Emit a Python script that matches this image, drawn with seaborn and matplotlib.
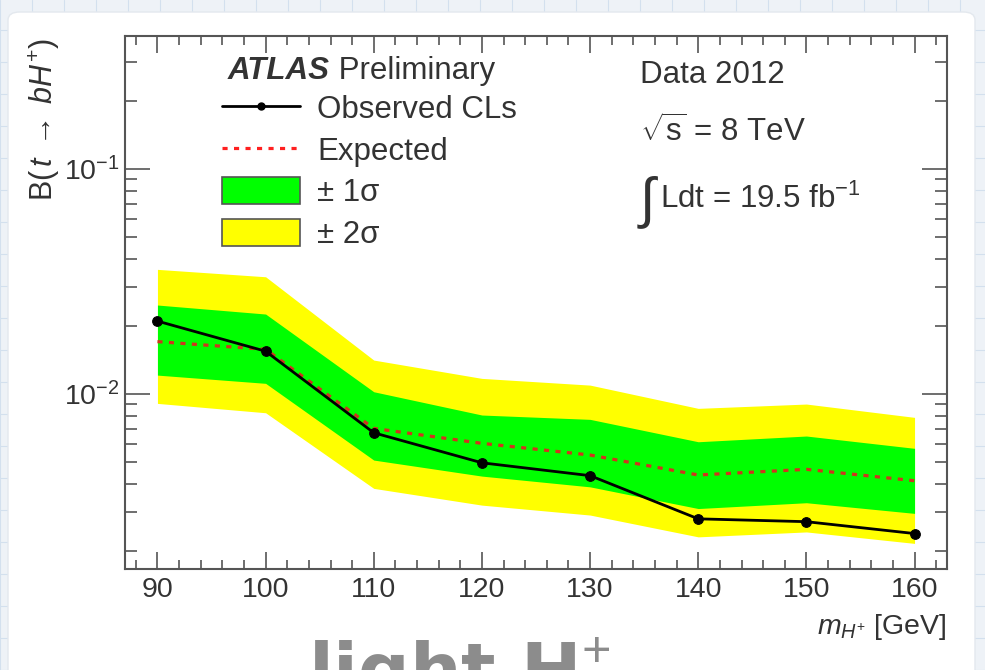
import numpy as np
import pandas as pd
import matplotlib
matplotlib.use("Agg")
import matplotlib.pyplot as plt
import seaborn as sns
from matplotlib.lines import Line2D
from matplotlib.patches import Patch, FancyBboxPatch
from matplotlib.ticker import MultipleLocator, LogLocator, NullFormatter

# ---------------- data ----------------
mass = [90, 100, 110, 120, 130, 140, 150, 160]
observed = [0.0211, 0.0155, 0.00673, 0.00495, 0.00434, 0.00279, 0.00271, 0.00240]
expected = [0.0171, 0.0158, 0.00704, 0.00604, 0.00536, 0.00437, 0.00463, 0.00412]
band1_lo = [0.01214, 0.01116, 0.00509, 0.00432, 0.00387, 0.00310, 0.00329, 0.00295]
band1_hi = [0.02487, 0.02268, 0.01024, 0.00807, 0.00772, 0.00614, 0.00651, 0.00574]
band2_lo = [0.00909, 0.00826, 0.00381, 0.00321, 0.00290, 0.00232, 0.00244, 0.00217]
band2_hi = [0.03582, 0.03321, 0.01416, 0.01174, 0.01096, 0.00864, 0.00903, 0.00788]
x_ticks = [90, 100, 110, 120, 130, 140, 150, 160]

df = pd.DataFrame({"mass": mass, "observed": observed, "expected": expected})

# ---------------- style ----------------
sns.set_theme(style="ticks")
plt.rcParams["font.family"] = ["Liberation Sans", "DejaVu Sans"]
plt.rcParams["mathtext.fontset"] = "custom"
plt.rcParams["mathtext.rm"] = "Liberation Sans"
plt.rcParams["mathtext.it"] = "Liberation Sans:italic"
plt.rcParams["mathtext.bf"] = "Liberation Sans:bold"

TXT = "#333333"
AX = "#555555"
FS = 20.5      # tick labels / axis labels
FT = 22.5      # legend and annotation text

fig = plt.figure(figsize=(9.85, 6.70), dpi=100)
fig.patch.set_facecolor("#eef2f7")

# faint grid-paper background and white card
for gx in np.arange(0, 985, 32):
    fig.add_artist(Line2D([gx / 985, gx / 985], [0, 1], color="#d3e0ee", lw=0.8,
                          transform=fig.transFigure, zorder=-10))
for gy in np.arange(0, 670, 32):
    fig.add_artist(Line2D([0, 1], [gy / 670, gy / 670], color="#d3e0ee", lw=0.8,
                          transform=fig.transFigure, zorder=-10))
card = FancyBboxPatch((8 / 985, -0.1), 967 / 985, 1.1 - 12 / 670,
                      boxstyle="round,pad=0,rounding_size=0.012",
                      transform=fig.transFigure, facecolor="white",
                      edgecolor="#e3e8ee", lw=1.0, zorder=-5)
fig.add_artist(card)

ax = fig.add_axes([125 / 985, 1 - 569 / 670, 822 / 985, 533 / 670])
ax.set_facecolor("white")

# bands
ax.fill_between(mass, band2_lo, band2_hi, color="#ffff00", lw=0, zorder=1)
ax.fill_between(mass, band1_lo, band1_hi, color="#00ff00", lw=0, zorder=2)

# lines
sns.lineplot(data=df, x="mass", y="expected", ax=ax, color="#d0341e",
             lw=2.3, dashes=False, zorder=3)
ax.lines[-1].set_linestyle((0, (1.6, 2.0)))
sns.lineplot(data=df, x="mass", y="observed", ax=ax, color="black",
             lw=2.0, marker="o", markersize=7, markeredgecolor="black", zorder=4)

ax.set_yscale("log")
ax.set_xlim(87, 163)
ax.set_ylim(0.00167, 0.39)

ax.xaxis.set_major_locator(MultipleLocator(10))
ax.xaxis.set_minor_locator(MultipleLocator(2))
ax.set_xticks(x_ticks)
ax.set_xticklabels([str(v) for v in x_ticks])
ax.yaxis.set_major_locator(LogLocator(base=10))
ax.yaxis.set_minor_locator(LogLocator(base=10, subs=np.arange(2, 10)))
ax.yaxis.set_minor_formatter(NullFormatter())

for s in ax.spines.values():
    s.set_color(AX)
    s.set_linewidth(1.5)
    s.set_zorder(6)

ax.tick_params(axis="both", which="both", direction="in", top=True, right=True,
               color=AX, width=1.2, labelcolor=TXT, labelsize=FS)
ax.tick_params(axis="x", which="major", length=12, pad=6)
ax.tick_params(axis="x", which="minor", length=6.5)
ax.tick_params(axis="y", which="major", length=18, pad=4)
ax.tick_params(axis="y", which="minor", length=8.5)

ax.set_xlabel(r"$m_{H^{+}}$ [GeV]", fontsize=FS, color=TXT, loc="right")
ax.xaxis.set_label_coords(1.0, -0.08)
ax.set_ylabel(r"B$(\,t\;\rightarrow\;bH^{+})$", fontsize=22, color=TXT, loc="top")
ax.yaxis.set_label_coords(-0.077, 0.995)

# legend
handles = [
    Line2D([], [], color="black", lw=2.0, marker="o", markersize=5),
    Line2D([], [], color="#ff2020", lw=2.3, linestyle=(0, (1.6, 2.0))),
    Patch(facecolor="#00ff00", edgecolor="#555555", lw=1.2),
    Patch(facecolor="#ffff00", edgecolor="#555555", lw=1.2),
]
labels = ["Observed CLs", "Expected", "\u00b1 1\u03c3", "\u00b1 2\u03c3"]
leg = ax.legend(handles, labels, loc="upper left", bbox_to_anchor=(0.118, 0.891),
                frameon=False, fontsize=FT, handlelength=2.5, handleheight=0.93,
                handletextpad=0.54, labelspacing=0.34, borderpad=0, borderaxespad=0)
for t in leg.get_texts():
    t.set_color(TXT)

atl = ax.text(0.1253, 0.935, "ATLAS", transform=ax.transAxes, fontsize=FT,
              fontweight="bold", fontstyle="italic", color=TXT, va="center", ha="left")
ax.annotate(" Preliminary", xy=(1, 0), xycoords=atl, fontsize=FT, color=TXT,
            va="bottom", ha="left")

ax.text(0.6265, 0.927, "Data 2012", transform=ax.transAxes, fontsize=FT,
        color=TXT, va="center", ha="left")
ax.text(0.6265, 0.82, r"$\sqrt{\mathrm{s}}$ = 8 TeV", transform=ax.transAxes,
        fontsize=FT, color=TXT, va="center", ha="left")
ax.text(0.6265, 0.69, "\u222b", transform=ax.transAxes, fontsize=40,
        color=TXT, va="center", ha="left")
ax.text(0.651, 0.694, r"Ldt = 19.5 fb$^{-1}$", transform=ax.transAxes,
        fontsize=FT, color=TXT, va="center", ha="left")

# partial caption at the bottom of the card (cut by the frame, as in the reference)
fig.text(308 / 985, 1 - 636 / 670, r"light H$^{+}$", fontsize=52, fontweight="bold",
         color="#8c8c8c", ha="left", va="top", family="DejaVu Sans")

fig.savefig("out.png", dpi=100, facecolor=fig.get_facecolor())
